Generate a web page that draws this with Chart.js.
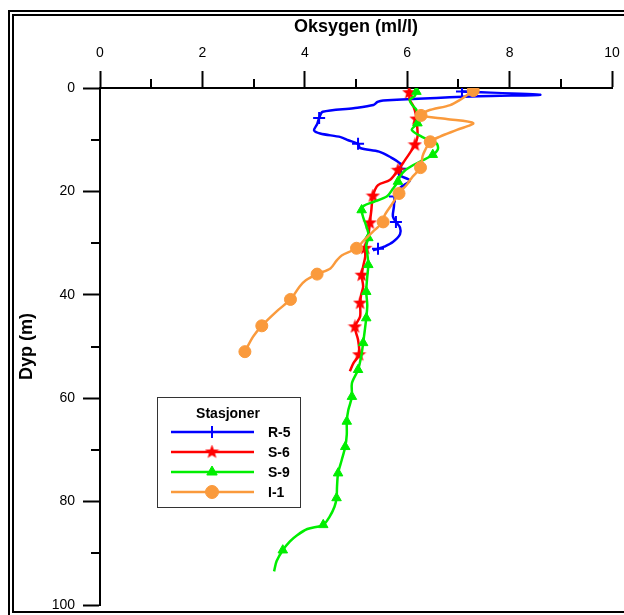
<!DOCTYPE html>
<html>
<head>
<meta charset="utf-8">
<script src="https://cdn.jsdelivr.net/npm/chart.js@4.4.1/dist/chart.umd.min.js"></script>
<style>
  html, body { margin: 0; padding: 0; background: #fff; }
  canvas { display: block; }
</style>
</head>
<body>
<canvas id="chart" width="624" height="615"></canvas>
<script>
// Oxygen profiles (ml/l) against depth (m), one pair of arrays per station
const stations = ["R-5", "S-6", "S-9", "I-1"];
const xTicks = [0, 2, 4, 6, 8, 10];
const yTicks = [0, 20, 40, 60, 80, 100];

const r5Depth = [0.7, 1.3, 1.6, 2.4, 2.7, 3.3, 3.9, 4.6, 5.8, 7.0, 8.2, 8.8, 9.5, 10.1, 10.8, 11.6, 12.3, 13.3, 14.6, 15.6, 16.8, 17.9, 19.3, 21.0, 23.0, 24.8, 25.9, 27.0, 28.3, 29.8, 30.7, 31.1, 31.4];
const r5Oxygen = [7.07, 8.6, 7.4, 5.53, 5.42, 5.34, 4.95, 4.35, 4.28, 4.24, 4.18, 4.3, 4.7, 4.85, 5.04, 5.08, 5.45, 5.66, 5.86, 5.88, 5.84, 6.05, 5.86, 5.76, 5.74, 5.72, 5.78, 5.86, 5.86, 5.72, 5.55, 5.43, 5.33];
const r5Marks = [0, 8, 14, 19, 23, 26, 31];

const s6Depth = [0.9, 2.3, 3.5, 5.5, 6.0, 8.1, 9.5, 11.0, 12.6, 13.9, 15.9, 17.8, 18.8, 20.9, 23.6, 26.1, 28.7, 31.0, 32.6, 34.5, 36.2, 38.4, 40.0, 41.6, 44.2, 46.2, 48.7, 51.6, 53.2, 54.8];
const s6Oxygen = [6.04, 6.05, 6.12, 6.18, 6.18, 6.2, 6.2, 6.15, 6.05, 5.96, 5.82, 5.66, 5.43, 5.33, 5.3, 5.27, 5.24, 5.18, 5.18, 5.14, 5.11, 5.14, 5.1, 5.08, 5.08, 4.98, 5.04, 5.06, 4.95, 4.88];
const s6Marks = [0, 4, 7, 10, 13, 15, 17, 20, 23, 25, 27];

const s9Depth = [0.7, 1.5, 2.3, 3.3, 4.2, 5.5, 6.8, 8.1, 9.4, 10.7, 11.8, 12.9, 14.0, 14.9, 16.0, 17.1, 18.1, 19.5, 21.0, 22.0, 22.8, 23.6, 25.0, 26.1, 28.0, 29.0, 30.5, 32.0, 34.2, 36.5, 39.4, 42.0, 44.5, 47.0, 49.3, 52.0, 54.5, 57.1, 59.7, 62.3, 64.5, 67.0, 69.4, 72.0, 74.5, 77.0, 79.3, 81.0, 83.0, 84.5, 85.3, 86.5, 87.7, 89.4, 91.5, 93.5];
const s9Oxygen = [6.18, 6.15, 6.05, 6.1, 6.18, 6.2, 6.2, 6.09, 6.28, 6.57, 6.6, 6.5, 6.3, 6.12, 5.95, 5.86, 5.82, 5.72, 5.6, 5.35, 5.15, 5.11, 5.14, 5.18, 5.24, 5.24, 5.2, 5.22, 5.24, 5.22, 5.2, 5.22, 5.2, 5.17, 5.14, 5.1, 5.04, 4.92, 4.92, 4.85, 4.82, 4.82, 4.79, 4.72, 4.65, 4.63, 4.62, 4.58, 4.48, 4.36, 4.05, 3.85, 3.71, 3.57, 3.45, 3.4];
const s9Marks = [0, 6, 11, 16, 21, 25, 28, 30, 32, 34, 36, 38, 40, 42, 44, 46, 49, 53];

const i1Depth = [0.5, 1.5, 2.3, 3.3, 4.4, 5.3, 6.0, 6.8, 8.1, 9.4, 10.4, 12.0, 13.2, 15.4, 17.2, 18.6, 20.4, 22.5, 24.6, 25.9, 27.6, 29.5, 31.0, 32.4, 33.4, 34.9, 36.0, 37.2, 38.4, 40.9, 43.2, 46.0, 48.1, 51.0];
const i1Oxygen = [7.29, 7.15, 7.03, 6.84, 6.4, 6.27, 6.77, 7.29, 6.97, 6.64, 6.45, 6.35, 6.3, 6.26, 6.1, 6.0, 5.84, 5.7, 5.56, 5.53, 5.35, 5.15, 5.01, 4.72, 4.62, 4.5, 4.24, 4.02, 3.9, 3.72, 3.45, 3.16, 2.99, 2.83];
const i1Marks = [0, 5, 10, 13, 16, 19, 22, 26, 29, 31, 33];

const FONT = "'Liberation Sans', Arial, sans-serif";

// filled five-point star for S-6
function makeStar(color, size) {
  const c = document.createElement("canvas");
  c.width = size; c.height = size;
  const g = c.getContext("2d");
  const r = size / 2, ri = r * 0.42;
  g.beginPath();
  for (let i = 0; i < 10; i++) {
    const rad = i % 2 ? ri : r;
    const a = -Math.PI / 2 + i * Math.PI / 5;
    g.lineTo(r + rad * Math.cos(a), r + rad * Math.sin(a));
  }
  g.closePath();
  g.fillStyle = color;
  g.fill();
  return c;
}

function profile(label, depth, oxygen, marks, color, style, radius, order) {
  return {
    label,
    data: depth.map((d, i) => ({ x: oxygen[i], y: d })),
    showLine: true,
    borderColor: color,
    backgroundColor: color,
    borderWidth: 2.5,
    tension: 0.3,
    pointStyle: style,
    pointBackgroundColor: color,
    pointBorderColor: color,
    pointBorderWidth: style === "cross" ? 2 : 1,
    pointRadius: (ctx) => (marks.includes(ctx.dataIndex) ? radius : 0),
    order,
  };
}

const datasets = [
  profile(stations[0], r5Depth, r5Oxygen, r5Marks, "#0000ff", "cross", 6, 4),
  profile(stations[1], s6Depth, s6Oxygen, s6Marks, "#ff0000", makeStar("#ff0000", 15), 6, 3),
  profile(stations[2], s9Depth, s9Oxygen, s9Marks, "#00ee00", "triangle", 5.5, 2),
  profile(stations[3], i1Depth, i1Oxygen, i1Marks, "#fa9a3c", "circle", 6, 1),
];

// no extra room for tick labels at the ends, layout padding decides
function noEndPadding(s) {
  s.paddingLeft = 0; s.paddingRight = 0; s.paddingTop = 0; s.paddingBottom = 0;
}

const framePlugin = {
  id: "frame",
  beforeDraw(chart) {
    const ctx = chart.ctx;
    ctx.save();
    ctx.fillStyle = "#fff";
    ctx.fillRect(0, 0, chart.width, chart.height);
    ctx.strokeStyle = "#000";
    ctx.lineWidth = 2;
    ctx.strokeRect(9, 11, 700, 605);
    ctx.strokeRect(13, 15, 700, 597);
    ctx.restore();
  },
  afterDraw(chart) {
    const ctx = chart.ctx;
    const { x, y } = chart.scales;
    const area = chart.chartArea;
    ctx.save();
    ctx.strokeStyle = "#000";
    ctx.lineWidth = 2;
    // minor ticks
    ctx.beginPath();
    for (let v = 1; v < 10; v += 2) {
      const px = Math.round(x.getPixelForValue(v));
      ctx.moveTo(px, area.top);
      ctx.lineTo(px, area.top - 9);
    }
    for (let v = 10; v < 100; v += 20) {
      const py = Math.round(y.getPixelForValue(v));
      ctx.moveTo(area.left, py);
      ctx.lineTo(area.left - 9, py);
    }
    ctx.stroke();

    // legend box
    const bx = 157, by = 397, bw = 143, bh = 110;
    ctx.fillStyle = "#fff";
    ctx.fillRect(bx, by, bw, bh);
    ctx.lineWidth = 1;
    ctx.strokeStyle = "#333";
    ctx.strokeRect(bx + 0.5, by + 0.5, bw, bh);
    ctx.fillStyle = "#000";
    ctx.font = "bold 14px " + FONT;
    ctx.textAlign = "center";
    ctx.textBaseline = "middle";
    ctx.fillText("Stasjoner", 228, 414);
    chart.data.datasets.forEach((ds, i) => {
      const ry = 432 + i * 20;
      ctx.strokeStyle = ds.borderColor;
      ctx.lineWidth = 2.5;
      ctx.beginPath();
      ctx.moveTo(171, ry);
      ctx.lineTo(254, ry);
      ctx.stroke();
      ctx.fillStyle = ds.pointBackgroundColor;
      ctx.strokeStyle = ds.pointBorderColor;
      ctx.lineWidth = ds.pointBorderWidth;
      Chart.helpers.drawPoint(ctx, {
        pointStyle: ds.pointStyle,
        radius: ds.pointStyle === "circle" ? 6.5 : 6,
        borderWidth: ds.pointBorderWidth,
        rotation: 0,
      }, 212, ry);
      ctx.fillStyle = "#000";
      ctx.textAlign = "left";
      ctx.font = "bold 14px " + FONT;
      ctx.fillText(ds.label, 268, ry + 1);
    });
    ctx.restore();
  },
};

new Chart(document.getElementById("chart"), {
  type: "scatter",
  data: { datasets },
  options: {
    responsive: false,
    animation: false,
    events: [],
    layout: { padding: { left: 0, top: 0, right: 12, bottom: 10 } },
    scales: {
      x: {
        type: "linear",
        position: "top",
        min: 0,
        max: 10,
        afterBuildTicks: (s) => { s.ticks = xTicks.map((v) => ({ value: v })); },
        afterFit: (s) => { s.height = 88; noEndPadding(s); },
        ticks: { color: "#000", padding: 9, font: { family: FONT, size: 14 } },
        grid: { drawOnChartArea: false, tickLength: 17, tickWidth: 2, tickColor: "#000" },
        border: { color: "#000", width: 2 },
        title: {
          display: true,
          text: "Oksygen (ml/l)",
          color: "#000",
          font: { family: FONT, size: 18, weight: "bold" },
          padding: { top: 16, bottom: 0 },
        },
      },
      y: {
        type: "linear",
        reverse: true,
        min: 0,
        max: 100,
        afterBuildTicks: (s) => { s.ticks = yTicks.map((v) => ({ value: v })); },
        afterFit: (s) => { s.width = 100; noEndPadding(s); },
        ticks: { color: "#000", padding: 8, font: { family: FONT, size: 14 } },
        grid: { drawOnChartArea: false, tickLength: 17, tickWidth: 2, tickColor: "#000" },
        border: { color: "#000", width: 2 },
        title: {
          display: true,
          text: "Dyp (m)",
          color: "#000",
          font: { family: FONT, size: 18, weight: "bold" },
          padding: { top: 16, bottom: 0 },
        },
      },
    },
    plugins: {
      legend: { display: false },
      tooltip: { enabled: false },
    },
  },
  plugins: [framePlugin],
});
</script>
</body>
</html>
